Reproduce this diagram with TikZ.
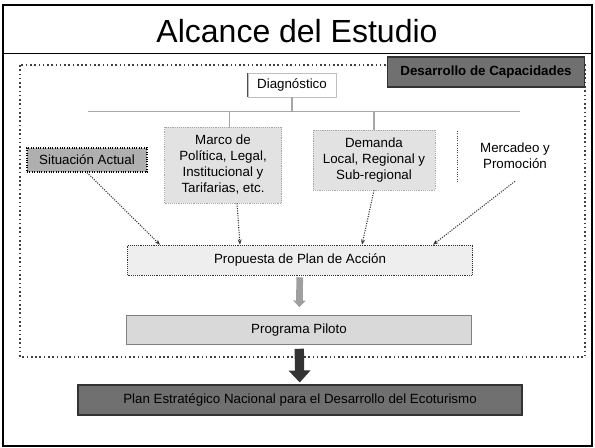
\documentclass[tikz,border=0pt]{standalone}
\usepackage{fontspec}
\setmainfont{Liberation Sans}
\usetikzlibrary{arrows.meta, positioning, calc}
\definecolor{capgray}{RGB}{112,112,112}
\definecolor{boxgray}{RGB}{226,226,226}
\definecolor{hatchgray}{RGB}{175,175,175}

\begin{document}
\begin{tikzpicture}[
  x=0.75pt, y=-0.75pt,
  box/.style={
    rectangle, fill=boxgray, draw=gray!70, densely dotted,
    align=center, font=\fontsize{10}{12}\selectfont, inner sep=2pt
  },
  darkbox/.style={
    rectangle, fill=capgray, draw=black!80, thick,
    align=center, font=\fontsize{10}{12}\selectfont, inner sep=2pt
  },
  flow/.style={-{Stealth[length=4pt]}, densely dotted, thick, color=black!80},
  bus/.style={gray!70, thick}
]
  \useasboundingbox (0,0) rectangle (595,448);

  % frame and title
  \draw[thick] (3,5) rectangle (592,446);
  \draw (3,53) -- (592,53);
  \node[font=\fontsize{24}{28}\selectfont] (title) at (297,31) {Alcance del Estudio};

  % study area
  \draw[dotted, very thick, black!75] (20,65) rectangle (585,357);
  \node[darkbox, font=\fontsize{10}{12}\selectfont\bfseries, minimum width=147.75pt, minimum height=22.5pt] (cap) at (486,72) {Desarrollo de Capacidades};

  \node[box, fill=white, solid, draw=gray!50, minimum width=66pt, minimum height=18pt] (diag) at (292,85) {Diagnóstico};
  \draw[black!70] (diag.north west) -- (diag.south west);

  \coordinate (busL) at (88,112);
  \coordinate (busR) at (520,112);
  \draw[bus, double] (busL) -- (busR);

  \node[box, fill=hatchgray, draw=black, thick, minimum width=90pt, minimum height=18pt] (sit) at (87,160) {Situación Actual};
  \node[box, minimum width=87.75pt, minimum height=57pt] (marco) at (223,165) {Marco de\\Política, Legal,\\Institucional y\\Tarifarias, etc.};
  \node[box, minimum width=91.5pt, minimum height=45pt] (dem) at (374,160) {Demanda\\Local, Regional y\\Sub-regional};
  \node[box, fill=none, draw=none, minimum width=86pt, minimum height=37.5pt] (merc) at (515,156) {Mercadeo y\\Promoción};
  \draw[densely dotted, thick, black!70] (merc.north west) -- (merc.south west);

  \draw[bus] (diag) -- (diag |- busL);
  \draw[bus] ([xshift=5pt]marco.north |- busL) -- ([xshift=5pt]marco.north);
  \draw[bus] (dem.north |- busL) -- (dem.north);

  \node[box, fill=boxgray!60, draw=black!80, minimum width=258.75pt, minimum height=22.5pt] (prop) at (300,260) {Propuesta de Plan de Acción};
  \node[box, fill=gray!30, solid, draw=gray, minimum width=258.75pt, minimum height=21.75pt] (prog) at (299,330) {Programa Piloto};

  \draw[flow] (sit.south) -- ($(prop.north)+(-140,0)$);
  \draw[flow] ($(marco.south)+(14,0)$) -- ($(prop.north)+(-60,0)$);
  \draw[flow] (dem.south) -- ($(prop.north)+(62,0)$);
  \draw[flow] (merc.south) -- ($(prop.north)+(133,0)$);

  \draw[-{Triangle[length=5pt,width=9pt]}, line width=5pt, gray!75, shorten <=1.5pt, shorten >=6pt] (prop) -- (prog);

  % result
  \node[darkbox, minimum width=333pt, minimum height=22.5pt] (plan) at (300,400) {Plan Estratégico Nacional para el Desarrollo del Ecoturismo};
  \draw[-{Triangle[length=9pt,width=16pt]}, line width=7pt, black!80, shorten <=3pt, shorten >=1.5pt] (prog) -- (plan);
\end{tikzpicture}
\end{document}
